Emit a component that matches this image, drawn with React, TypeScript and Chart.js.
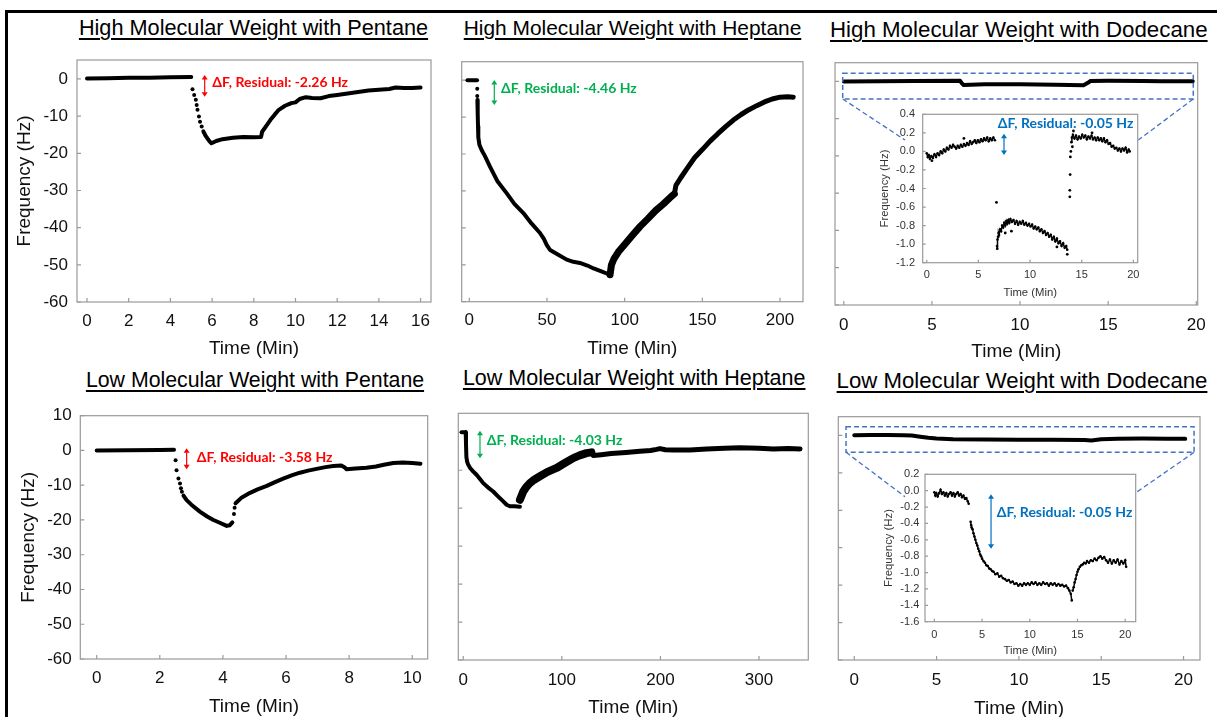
import React, { useEffect, useRef } from "react";
import { Chart, registerables } from "chart.js";

Chart.register(...registerables);

type Pt = [number, number];

// ---------------- tick values ----------------
const freqTicksA = [-60, -50, -40, -30, -20, -10, 0];
const freqTicksB = [-60, -50, -40, -30, -20, -10, 0, 10];
const timeTicksHmwPentane = [0, 2, 4, 6, 8, 10, 12, 14, 16];
const timeTicksHmwHeptane = [0, 50, 100, 150, 200];
const timeTicksDodecane = [0, 5, 10, 15, 20];
const timeTicksLmwPentane = [0, 2, 4, 6, 8, 10];
const timeTicksLmwHeptane = [0, 100, 200, 300];
const insetHmwYTicks = [-1.2, -1.0, -0.8, -0.6, -0.4, -0.2, 0.0, 0.2, 0.4];
const insetLmwYTicks = [-1.6, -1.4, -1.2, -1.0, -0.8, -0.6, -0.4, -0.2, 0.0, 0.2];

// ---------------- HMW + Pentane ----------------
const hmwPentaneBase: Pt[] = [[0, 0.15], [1, 0.2], [2, 0.3], [3, 0.35], [4, 0.45], [5, 0.55]];
const hmwPentaneDrop: Pt[] = [[5.06, -2.8], [5.14, -4.3], [5.22, -5.6], [5.26, -7.0], [5.3, -8.3], [5.37, -10.1], [5.42, -11.5], [5.5, -12.8]];
const hmwPentaneMain: Pt[] = [[5.58, -14.1], [5.7, -15.4], [5.85, -16.6], [5.97, -17.3], [6.2, -16.7], [6.5, -16.2], [7.0, -15.8], [7.5, -15.6], [8.0, -15.7], [8.35, -15.6], [8.4, -14.2], [8.6, -12.6], [8.8, -11.0], [9.0, -9.6], [9.2, -8.3], [9.5, -7.2], [9.8, -6.5], [10.0, -6.3], [10.2, -5.4], [10.5, -4.9], [10.8, -5.1], [11.2, -5.2], [11.6, -4.6], [12.0, -4.3], [12.5, -3.9], [13.0, -3.5], [13.5, -3.1], [14.0, -2.9], [14.5, -2.7], [14.8, -2.3], [15.2, -2.4], [15.6, -2.4], [16.0, -2.3]];

// ---------------- HMW + Heptane ----------------
const hmwHeptaneBase: Pt[] = [[-1.2, 0], [5, 0]];
const hmwHeptaneDrop: Pt[] = [[5.1, -2.3], [5.1, -4.3]];
const hmwHeptaneFall: Pt[] = [[5.2, -5.4], [5.4, -9], [5.6, -12.5], [5.8, -15.5], [6.5, -17.5], [8, -19], [10, -20.5], [13.3, -23.4], [18, -27.3], [24, -30.6], [29, -33.5], [34.8, -36], [40, -38.8], [45.5, -41.4], [48, -43], [49.8, -44.6], [52, -46], [57, -47.2], [62.7, -48.6], [67, -49.2], [71.2, -49.5], [76, -50.2], [80, -51], [85, -51.8], [90.6, -52.7]];
const hmwHeptaneRiseNoisy: Pt[] = [[90.6, -52.7], [91.5, -50], [93, -48.5], [96, -46.5], [100, -44.5], [105, -42], [110, -39.6], [115, -37.5], [120, -35.3], [125, -33.5], [130, -31.5], [132, -30.8]];
const hmwHeptaneRise: Pt[] = [[132, -30.8], [133, -28.5], [136, -26.5], [140, -24], [145, -21], [150, -18.8], [155, -16.5], [160, -14.5], [165, -12.6], [170, -10.8], [175, -9.3], [180, -8], [185, -6.9], [190, -5.9], [195, -5.1], [200, -4.6], [205, -4.5], [208.5, -4.6]];

// ---------------- HMW + Dodecane ----------------
const hmwDodecaneMain: Pt[] = [[0, -0.05], [2, 0.03], [4, 0.08], [6.6, 0.13], [6.7, -0.55], [6.8, -1.0], [8, -0.75], [10, -0.8], [12, -0.92], [13.6, -1.06], [13.85, -0.4], [14, 0.12], [15, 0.16], [17, 0.12], [18, 0.05], [19.8, 0.01]];
const insetHmwA: Pt[] = [[0.0, -0.02], [0.1, -0.06], [0.2, -0.04], [0.3, -0.08], [0.45, -0.05], [0.6, -0.07], [0.75, -0.03], [0.9, -0.06], [1.05, -0.02], [1.2, -0.04], [1.35, 0.0], [1.5, -0.02], [1.65, 0.02], [1.8, 0.0], [1.95, 0.04], [2.1, 0.02], [2.25, 0.06], [2.4, 0.04], [2.55, 0.07], [2.7, 0.05], [2.85, 0.03], [3.0, 0.06], [3.15, 0.04], [3.3, 0.07], [3.45, 0.05], [3.6, 0.08], [3.75, 0.06], [3.9, 0.09], [4.05, 0.07], [4.2, 0.11], [4.35, 0.08], [4.5, 0.1], [4.65, 0.12], [4.8, 0.09], [4.95, 0.12], [5.1, 0.1], [5.25, 0.13], [5.4, 0.11], [5.55, 0.14], [5.7, 0.12], [5.85, 0.15], [6.0, 0.11], [6.15, 0.14], [6.3, 0.12], [6.45, 0.15], [6.6, 0.12]];
const insetHmwDots: Pt[] = [[6.75, -0.55], [13.85, -0.49], [13.85, -0.42], [13.88, -0.25], [13.9, -0.06], [13.95, 0.0], [7.6, -0.88], [8.2, -0.86], [12.6, -1.03], [13.6, -1.11], [14.1, 0.05], [14.2, 0.22], [16.0, 0.2], [3.6, 0.14], [0.5, -0.1]];
const insetHmwB: Pt[] = [[6.8, -1.02], [6.82, -1.05], [6.85, -0.95], [6.9, -0.92], [6.95, -0.88], [7.0, -0.9], [7.1, -0.84], [7.2, -0.86], [7.3, -0.8], [7.4, -0.82], [7.5, -0.77], [7.6, -0.8], [7.7, -0.75], [7.8, -0.78], [7.9, -0.74], [8.0, -0.77], [8.1, -0.73], [8.25, -0.76], [8.4, -0.74], [8.55, -0.78], [8.7, -0.75], [8.85, -0.79], [9.0, -0.76], [9.15, -0.78], [9.3, -0.75], [9.45, -0.79], [9.6, -0.77], [9.75, -0.8], [9.9, -0.78], [10.05, -0.81], [10.2, -0.79], [10.35, -0.83], [10.5, -0.81], [10.65, -0.84], [10.8, -0.82], [10.95, -0.86], [11.1, -0.84], [11.25, -0.88], [11.4, -0.86], [11.55, -0.9], [11.7, -0.88], [11.85, -0.92], [12.0, -0.9], [12.15, -0.95], [12.3, -0.92], [12.45, -0.97], [12.6, -0.94], [12.75, -0.99], [12.9, -0.97], [13.05, -1.02], [13.2, -0.99], [13.35, -1.04], [13.5, -1.02], [13.6, -1.06]];
const insetHmwC: Pt[] = [[14.0, 0.1], [14.05, 0.15], [14.15, 0.18], [14.3, 0.14], [14.45, 0.17], [14.6, 0.13], [14.75, 0.16], [14.9, 0.14], [15.05, 0.18], [15.2, 0.15], [15.35, 0.17], [15.5, 0.13], [15.65, 0.16], [15.8, 0.14], [15.95, 0.17], [16.1, 0.13], [16.25, 0.15], [16.4, 0.12], [16.55, 0.15], [16.7, 0.12], [16.85, 0.14], [17.0, 0.11], [17.15, 0.14], [17.3, 0.1], [17.45, 0.12], [17.6, 0.08], [17.75, 0.09], [17.9, 0.05], [18.05, 0.06], [18.2, 0.03], [18.35, 0.04], [18.5, 0.01], [18.65, 0.03], [18.8, 0.0], [18.95, 0.03], [19.1, 0.01], [19.25, 0.04], [19.4, -0.01], [19.55, 0.02], [19.65, 0.0]];

// ---------------- LMW + Pentane ----------------
const lmwPentaneBase: Pt[] = [[0, 0], [1, 0.05], [2, 0.1], [2.45, 0.2]];
const lmwPentaneDrop: Pt[] = [[2.5, -2.8], [2.53, -5.7], [2.59, -8.1], [2.64, -9.5], [2.67, -10.9], [2.7, -11.9], [4.35, -18.3], [4.37, -16.5]];
const lmwPentaneFall: Pt[] = [[2.75, -13], [2.85, -14.3], [3.0, -15.6], [3.27, -17.6], [3.5, -19], [3.7, -20], [3.9, -20.8], [4.12, -21.7], [4.22, -21.5], [4.3, -20.7]];
const lmwPentaneRise: Pt[] = [[4.4, -15.2], [4.6, -13.5], [4.86, -12.2], [5.1, -11.2], [5.39, -10.2], [5.65, -9.1], [5.91, -8.1], [6.2, -7.1], [6.44, -6.4], [6.7, -5.8], [6.97, -5.3], [7.25, -4.8], [7.5, -4.5], [7.75, -4.3], [7.85, -4.8], [7.92, -5.4], [8.2, -5.2], [8.55, -5.0], [8.85, -4.6], [9.1, -4.1], [9.4, -3.6], [9.7, -3.5], [10.0, -3.6], [10.26, -3.8]];

// ---------------- LMW + Heptane ----------------
const lmwHeptaneFall: Pt[] = [[-1.7, 0], [2.5, 0], [2.8, -3], [3.2, -6.5], [4, -7.8], [5, -8.5], [7, -9.4], [10, -10.3], [13.5, -11.2], [17, -12.3], [20.3, -13.4], [25, -14.5], [30.4, -15.6], [35, -16.8], [40.6, -18.2], [44, -19.1], [47.3, -19.5], [52, -19.5], [57.5, -19.6]];
const lmwHeptaneRiseNoisy: Pt[] = [[57.5, -17.8], [60.9, -15.6], [64, -14.4], [67.6, -13.4], [72, -12.5], [77.8, -11.6], [85, -10.5], [94.7, -9.4], [103, -8.1], [111.6, -6.8], [118, -6.1], [125.1, -5.5], [130, -5.3]];
const lmwHeptaneTail: Pt[] = [[130, -5.3], [131.9, -6.1], [140, -5.9], [150, -5.6], [165, -5.3], [179.2, -5.0], [190, -4.8], [196.1, -4.5], [199.5, -4.3], [205, -4.6], [213, -4.7], [230, -4.7], [246.9, -4.4], [265, -4.2], [280.7, -4.1], [300, -4.2], [314.5, -4.4], [330, -4.3], [341.6, -4.4]];

// ---------------- LMW + Dodecane ----------------
const lmwDodecaneMain: Pt[] = [[0, 0.05], [1, 0.08], [2, 0.08], [3, 0.05], [3.5, -0.05], [4, -0.35], [4.5, -0.65], [5, -0.85], [6, -1.0], [8, -1.1], [10, -1.15], [12, -1.15], [14, -1.2], [14.4, -1.35], [15, -1.0], [16, -0.88], [17.5, -0.82], [19, -0.88], [20.1, -0.92]];
const insetLmwA: Pt[] = [[0, -0.02], [0.1, -0.06], [0.2, -0.03], [0.35, -0.07], [0.5, -0.03], [0.65, 0.01], [0.8, -0.04], [0.95, -0.02], [1.1, -0.06], [1.25, -0.03], [1.4, -0.07], [1.55, -0.04], [1.7, -0.02], [1.85, -0.06], [2.0, -0.03], [2.15, -0.07], [2.3, -0.04], [2.45, -0.02], [2.6, -0.06], [2.75, -0.04], [2.9, -0.08], [3.05, -0.06], [3.2, -0.1], [3.35, -0.09], [3.5, -0.13], [3.6, -0.16]];
const insetLmwB: Pt[] = [[3.8, -0.38], [3.85, -0.42], [3.9, -0.45], [4.0, -0.47], [4.1, -0.52], [4.2, -0.56], [4.3, -0.6], [4.4, -0.64], [4.5, -0.67], [4.6, -0.71], [4.7, -0.74], [4.8, -0.78], [4.9, -0.8], [5.0, -0.83], [5.15, -0.86], [5.3, -0.88], [5.45, -0.91], [5.6, -0.92], [5.75, -0.95], [5.9, -0.96], [6.05, -0.98], [6.2, -0.99], [6.4, -1.02], [6.6, -1.01], [6.8, -1.05], [7.0, -1.04], [7.2, -1.07], [7.4, -1.08], [7.6, -1.1], [7.8, -1.09], [8.0, -1.12], [8.2, -1.11], [8.4, -1.14], [8.6, -1.13], [8.8, -1.16], [9.0, -1.14], [9.2, -1.16], [9.4, -1.13], [9.6, -1.15], [9.8, -1.13], [10.0, -1.15], [10.2, -1.12], [10.4, -1.14], [10.6, -1.12], [10.8, -1.15], [11.0, -1.13], [11.2, -1.15], [11.4, -1.12], [11.6, -1.14], [11.8, -1.13], [12.0, -1.16], [12.2, -1.13], [12.4, -1.15], [12.6, -1.13], [12.8, -1.16], [13.0, -1.14], [13.2, -1.16], [13.4, -1.15], [13.6, -1.17], [13.8, -1.16], [14.0, -1.19], [14.15, -1.22], [14.3, -1.26], [14.4, -1.34]];
const insetLmwC: Pt[] = [[14.5, -1.22], [14.6, -1.18], [14.7, -1.12], [14.8, -1.08], [14.9, -1.03], [15.0, -0.99], [15.1, -0.96], [15.25, -0.93], [15.4, -0.91], [15.55, -0.9], [15.7, -0.88], [15.85, -0.89], [16.0, -0.86], [16.2, -0.88], [16.4, -0.85], [16.6, -0.86], [16.8, -0.83], [17.0, -0.85], [17.2, -0.82], [17.4, -0.8], [17.6, -0.83], [17.8, -0.81], [18.0, -0.85], [18.2, -0.88], [18.4, -0.84], [18.6, -0.89], [18.8, -0.85], [19.0, -0.88], [19.2, -0.84], [19.4, -0.9], [19.6, -0.86], [19.8, -0.89], [20.0, -0.85], [20.1, -0.93]];

// ---------------- annotation texts ----------------
const residualHmwPentane = "ΔF, Residual: -2.26 Hz";
const residualHmwHeptane = "ΔF, Residual: -4.46 Hz";
const residualHmwDodecane = "ΔF, Residual: -0.05 Hz";
const residualLmwPentane = "ΔF, Residual: -3.58 Hz";
const residualLmwHeptane = "ΔF, Residual: -4.03 Hz";
const residualLmwDodecane = "ΔF, Residual: -0.05 Hz";

const RED = "#FF0000";
const GREEN = "#00B050";
const BLUE = "#0070C0";
const DASH_BLUE = "#4472C4";

interface Box { l: number; t: number; r: number; b: number; }
type Ann =
  | { kind: "text"; x: number; y: number; text: string; color: string }
  | { kind: "arrow"; x: number; y1: number; y2: number; color: string }
  | { kind: "dashRect"; x1: number; y1: number; x2: number; y2: number }
  | { kind: "dashLine"; x1: number; y1: number; x2: number; y2: number };

interface PanelCfg {
  canvas: Box;
  plot: Box;
  xRange: [number, number];
  yRange: [number, number];
  xTicks: number[];
  yTicks: number[];
  showYLabels: boolean;
  yDecimals: number;
  yTitleX?: number;
  xTitleY: number;
  xTickCenterY: number;
  yLabelRight: number;
  tickFont: number;
  titleFont: number;
  tickLen: number;
  labelColor: string;
  datasets: any[];
  anns: Ann[];
}

const toXY = (d: Pt[]) => d.map(([x, y]) => ({ x, y }));
const lineDs = (d: Pt[], w: number) => ({
  data: toXY(d), showLine: true, borderColor: "#000", backgroundColor: "#000",
  borderWidth: w, pointRadius: 0, borderCapStyle: "round", borderJoinStyle: "round", tension: 0,
});
const dotDs = (d: Pt[], r: number) => ({
  data: toXY(d), showLine: false, pointRadius: r, pointBackgroundColor: "#000",
  pointBorderWidth: 0, borderColor: "#000", backgroundColor: "#000",
});
const noisyDs = (d: Pt[], w: number, r: number) => ({
  data: toXY(d), showLine: true, borderColor: "#000", backgroundColor: "#000",
  borderWidth: w, pointRadius: r, pointBackgroundColor: "#000", pointBorderWidth: 0, tension: 0,
});

const MAIN = { tickFont: 17, titleFont: 19, tickLen: 4, labelColor: "#111" };
const INSET = { tickFont: 11, titleFont: 11.3, tickLen: 3, labelColor: "#333" };

const PANELS: PanelCfg[] = [
  {
    ...MAIN,
    canvas: { l: 10, t: 30, r: 450, b: 362 }, plot: { l: 77, t: 60, r: 431, b: 302 },
    xRange: [-0.48, 16.5], yRange: [-60, 5.1], xTicks: timeTicksHmwPentane, yTicks: freqTicksA,
    showYLabels: true, yDecimals: 0, yTitleX: 25, xTitleY: 348.3, xTickCenterY: 321.7, yLabelRight: 68,
    datasets: [lineDs(hmwPentaneBase, 4), dotDs(hmwPentaneDrop, 2), lineDs(hmwPentaneMain, 4)],
    anns: [
      { kind: "arrow", x: 5.645, y1: 1.06, y2: -4.77, color: RED },
      { kind: "text", x: 6.01, y: -0.9, text: residualHmwPentane, color: RED },
    ],
  },
  {
    ...MAIN,
    canvas: { l: 445, t: 30, r: 822, b: 362 }, plot: { l: 461.7, t: 61.7, r: 803, b: 301.7 },
    xRange: [-4.9, 214.8], yRange: [-60, 5], xTicks: timeTicksHmwHeptane, yTicks: freqTicksA,
    showYLabels: false, yDecimals: 0, xTitleY: 348.3, xTickCenterY: 320.7, yLabelRight: 452,
    datasets: [lineDs(hmwHeptaneBase, 4), dotDs(hmwHeptaneDrop, 2), lineDs(hmwHeptaneFall, 4), lineDs(hmwHeptaneRiseNoisy, 7), lineDs(hmwHeptaneRise, 5)],
    anns: [
      { kind: "arrow", x: 16.09, y1: 0.04, y2: -6.73, color: GREEN },
      { kind: "text", x: 20.4, y: -2.2, text: residualHmwHeptane, color: GREEN },
    ],
  },
  {
    ...MAIN,
    canvas: { l: 820, t: 30, r: 1217, b: 366 }, plot: { l: 835, t: 62.7, r: 1197.7, b: 305 },
    xRange: [-0.5, 20.08], yRange: [-60, 5], xTicks: timeTicksDodecane, yTicks: freqTicksA,
    showYLabels: false, yDecimals: 0, xTitleY: 351.7, xTickCenterY: 325, yLabelRight: 826,
    datasets: [lineDs(hmwDodecaneMain, 4)],
    anns: [
      { kind: "dashRect", x1: -0.063, y1: 2.16, x2: 19.83, y2: -4.74 },
      { kind: "dashLine", x1: -0.063, y1: -4.74, x2: 3.47, y2: -15.73 },
      { kind: "dashLine", x1: 19.83, y1: -4.74, x2: 16.71, y2: -15.73 },
    ],
  },
  {
    ...MAIN,
    canvas: { l: 10, t: 390, r: 447, b: 720 }, plot: { l: 80.3, t: 415.7, r: 427.7, b: 659 },
    xRange: [-0.52, 10.49], yRange: [-60, 10], xTicks: timeTicksLmwPentane, yTicks: freqTicksB,
    showYLabels: true, yDecimals: 0, yTitleX: 28.3, xTitleY: 706.7, xTickCenterY: 678, yLabelRight: 71.7,
    datasets: [lineDs(lmwPentaneBase, 4), dotDs(lmwPentaneDrop, 2), lineDs(lmwPentaneFall, 4), lineDs(lmwPentaneRise, 4)],
    anns: [
      { kind: "arrow", x: 2.85, y1: 0.62, y2: -5.42, color: RED },
      { kind: "text", x: 3.17, y: -1.97, text: residualLmwPentane, color: RED },
    ],
  },
  {
    ...MAIN,
    canvas: { l: 445, t: 390, r: 827, b: 720 }, plot: { l: 458.3, t: 413.3, r: 808.3, b: 660 },
    xRange: [-5, 350], yRange: [-60, 5], xTicks: timeTicksLmwHeptane, yTicks: freqTicksA,
    showYLabels: false, yDecimals: 0, xTitleY: 707.3, xTickCenterY: 680, yLabelRight: 450,
    datasets: [lineDs(lmwHeptaneFall, 4), lineDs(lmwHeptaneRiseNoisy, 8), lineDs(lmwHeptaneTail, 5)],
    anns: [
      { kind: "arrow", x: 17.0, y1: 0.41, y2: -6.86, color: GREEN },
      { kind: "text", x: 23.8, y: -2.04, text: residualLmwHeptane, color: GREEN },
    ],
  },
  {
    ...MAIN,
    canvas: { l: 820, t: 390, r: 1217, b: 722 }, plot: { l: 838.3, t: 416.7, r: 1200, b: 660 },
    xRange: [-0.97, 21], yRange: [-60, 5], xTicks: timeTicksDodecane, yTicks: freqTicksA,
    showYLabels: false, yDecimals: 0, xTitleY: 708.3, xTickCenterY: 680.7, yLabelRight: 830,
    datasets: [lineDs(lmwDodecaneMain, 4)],
    anns: [
      { kind: "dashRect", x1: -0.5, y1: 2.33, x2: 20.64, y2: -4.51 },
      { kind: "dashLine", x1: -0.5, y1: -4.51, x2: 3.08, y2: -16.37 },
      { kind: "dashLine", x1: 20.64, y1: -4.51, x2: 17.05, y2: -15.47 },
    ],
  },
  {
    ...INSET,
    canvas: { l: 875, t: 100, r: 1150, b: 301 }, plot: { l: 922.7, t: 111, r: 1137.7, b: 262.7 },
    xRange: [-0.39, 20.42], yRange: [-1.2, 0.4], xTicks: timeTicksDodecane, yTicks: insetHmwYTicks,
    showYLabels: true, yDecimals: 1, yTitleX: 885, xTitleY: 292.7, xTickCenterY: 275, yLabelRight: 915,
    datasets: [noisyDs(insetHmwA, 1.5, 1.3), noisyDs(insetHmwB, 1.5, 1.3), noisyDs(insetHmwC, 1.5, 1.3), dotDs(insetHmwDots, 1.4)],
    anns: [
      { kind: "arrow", x: 7.48, y1: 0.189, y2: -0.04, color: BLUE },
      { kind: "text", x: 6.87, y: 0.305, text: residualHmwDodecane, color: BLUE },
    ],
  },
  {
    ...INSET,
    canvas: { l: 875, t: 462, r: 1150, b: 660 }, plot: { l: 925, t: 473.3, r: 1135.7, b: 621.7 },
    xRange: [-0.98, 21.1], yRange: [-1.6, 0.2], xTicks: timeTicksDodecane, yTicks: insetLmwYTicks,
    showYLabels: true, yDecimals: 1, yTitleX: 889.3, xTitleY: 651, xTickCenterY: 635, yLabelRight: 919.3,
    datasets: [noisyDs(insetLmwA, 1.5, 1.3), noisyDs(insetLmwB, 1.5, 1.3), noisyDs(insetLmwC, 1.5, 1.3)],
    anns: [
      { kind: "arrow", x: 5.94, y1: -0.043, y2: -0.71, color: BLUE },
      { kind: "text", x: 6.53, y: -0.266, text: residualLmwDodecane, color: BLUE },
    ],
  },
];

const TITLES = [
  { text: "High Molecular Weight with Pentane", cx: 253.5, cy: 27.3, size: 21.7 },
  { text: "High Molecular Weight with Heptane", cx: 632.5, cy: 27.8, size: 20.9 },
  { text: "High Molecular Weight with Dodecane", cx: 1018.8, cy: 30, size: 22.3 },
  { text: "Low Molecular Weight with Pentane", cx: 255, cy: 380.3, size: 21.3 },
  { text: "Low Molecular Weight with Heptane", cx: 634.2, cy: 378.7, size: 21.5 },
  { text: "Low Molecular Weight with Dodecane", cx: 1022, cy: 381.2, size: 22.2 },
];

const FAMILY = '"Liberation Sans", Arial, sans-serif';

function decor(p: PanelCfg) {
  return {
    id: "decor",
    beforeDatasetsDraw(chart: any) {
      const { ctx, chartArea: a, scales } = chart;
      ctx.save();
      ctx.strokeStyle = "#9a9a9a";
      ctx.lineWidth = 1.2;
      ctx.strokeRect(a.left, a.top, a.right - a.left, a.bottom - a.top);
      ctx.beginPath();
      scales.x.ticks.forEach((t: any) => {
        const x = scales.x.getPixelForValue(t.value);
        ctx.moveTo(x, a.bottom);
        ctx.lineTo(x, a.bottom - p.tickLen);
      });
      scales.y.ticks.forEach((t: any) => {
        const y = scales.y.getPixelForValue(t.value);
        ctx.moveTo(a.left, y);
        ctx.lineTo(a.left + p.tickLen, y);
      });
      ctx.stroke();
      ctx.restore();
    },
    afterDatasetsDraw(chart: any) {
      const { ctx, scales } = chart;
      const X = (v: number) => scales.x.getPixelForValue(v);
      const Y = (v: number) => scales.y.getPixelForValue(v);
      ctx.save();
      p.anns.forEach((an) => {
        if (an.kind === "text") {
          ctx.fillStyle = an.color;
          ctx.font = "bold 14px Lato, 'Open Sans', sans-serif";
          ctx.textAlign = "left";
          ctx.textBaseline = "middle";
          ctx.fillText(an.text, X(an.x), Y(an.y));
        } else if (an.kind === "arrow") {
          const x = X(an.x), y1 = Y(an.y1), y2 = Y(an.y2);
          const h = 4.5, w = 3;
          ctx.strokeStyle = an.color;
          ctx.fillStyle = an.color;
          ctx.lineWidth = 1.2;
          ctx.beginPath();
          ctx.moveTo(x, y1 + h - 0.5);
          ctx.lineTo(x, y2 - h + 0.5);
          ctx.stroke();
          ctx.beginPath();
          ctx.moveTo(x, y1); ctx.lineTo(x - w, y1 + h); ctx.lineTo(x + w, y1 + h); ctx.closePath(); ctx.fill();
          ctx.beginPath();
          ctx.moveTo(x, y2); ctx.lineTo(x - w, y2 - h); ctx.lineTo(x + w, y2 - h); ctx.closePath(); ctx.fill();
        } else if (an.kind === "dashRect") {
          ctx.strokeStyle = DASH_BLUE;
          ctx.lineWidth = 1.5;
          ctx.setLineDash([5, 3]);
          const x1 = X(an.x1), x2 = X(an.x2), y1 = Y(an.y1), y2 = Y(an.y2);
          ctx.strokeRect(x1, y1, x2 - x1, y2 - y1);
          ctx.setLineDash([]);
        } else if (an.kind === "dashLine") {
          ctx.strokeStyle = DASH_BLUE;
          ctx.lineWidth = 1.3;
          ctx.setLineDash([5, 3]);
          ctx.beginPath();
          ctx.moveTo(X(an.x1), Y(an.y1));
          ctx.lineTo(X(an.x2), Y(an.y2));
          ctx.stroke();
          ctx.setLineDash([]);
        }
      });
      ctx.restore();
    },
  };
}

function makeChart(canvas: HTMLCanvasElement, p: PanelCfg) {
  const titleLH = p.titleFont * 1.2;
  const tickLH = p.tickFont * 1.2;
  const padLeft = p.yTitleX !== undefined ? p.yTitleX - titleLH / 2 - p.canvas.l : 0;
  const yWidth = p.plot.l - p.canvas.l - padLeft;
  const padTop = p.plot.t - p.canvas.t;
  const padRight = p.canvas.r - p.plot.r;
  const xHeight = p.xTitleY + titleLH / 2 - p.plot.b;
  const padBottom = Math.max(0, p.canvas.b - (p.xTitleY + titleLH / 2));
  const xTickPad = p.xTickCenterY - p.plot.b - tickLH / 2;
  const yTickPad = p.plot.l - p.yLabelRight;
  return new Chart(canvas, {
    type: "scatter",
    data: { datasets: p.datasets },
    options: {
      responsive: false,
      animation: false,
      devicePixelRatio: 1,
      events: [],
      layout: { padding: { left: padLeft, top: padTop, right: padRight, bottom: padBottom } },
      plugins: { legend: { display: false }, tooltip: { enabled: false } },
      scales: {
        x: {
          type: "linear",
          position: "bottom",
          min: p.xRange[0],
          max: p.xRange[1],
          afterBuildTicks: (ax: any) => { ax.ticks = p.xTicks.map((v) => ({ value: v })); },
          afterFit: (s: any) => { s.height = xHeight; },
          grid: { display: false, drawTicks: false },
          border: { display: false },
          ticks: {
            autoSkip: false, maxRotation: 0, minRotation: 0, padding: xTickPad,
            color: p.labelColor, font: { family: FAMILY, size: p.tickFont },
            callback: (v: any) => String(v),
          },
          title: { display: true, text: "Time (Min)", color: p.labelColor, font: { family: FAMILY, size: p.titleFont }, padding: 0 },
        },
        y: {
          type: "linear",
          position: "left",
          min: p.yRange[0],
          max: p.yRange[1],
          afterBuildTicks: (ax: any) => { ax.ticks = p.yTicks.map((v) => ({ value: v })); },
          afterFit: (s: any) => { s.width = yWidth; },
          grid: { display: false, drawTicks: false },
          border: { display: false },
          ticks: {
            display: p.showYLabels, autoSkip: false, padding: yTickPad,
            color: p.labelColor, font: { family: FAMILY, size: p.tickFont },
            callback: (v: any) => Number(v).toFixed(p.yDecimals),
          },
          title: { display: p.yTitleX !== undefined, text: "Frequency (Hz)", color: p.labelColor, font: { family: FAMILY, size: p.titleFont }, padding: 0 },
        },
      },
    } as any,
    plugins: [decor(p)],
  });
}

export default function App() {
  const refs = useRef<(HTMLCanvasElement | null)[]>([]);
  useEffect(() => {
    const charts = PANELS.map((p, i) => makeChart(refs.current[i] as HTMLCanvasElement, p));
    return () => charts.forEach((c) => c.destroy());
  }, []);
  return (
    <div style={{ position: "absolute", left: 0, top: 0, width: 1217, height: 717, overflow: "hidden", background: "#fff" }}>
      <div style={{ position: "absolute", left: 5, top: 10, width: 1212, height: 3, background: "#000" }} />
      <div style={{ position: "absolute", left: 5, top: 10, width: 3, height: 707, background: "#000" }} />
      {TITLES.map((t, i) => (
        <div
          key={"t" + i}
          style={{
            position: "absolute", left: t.cx - 260, width: 520, top: t.cy - 0.4885 * t.size,
            fontFamily: FAMILY, fontSize: t.size, lineHeight: 1, textAlign: "center", color: "#000",
            textDecoration: "underline", textUnderlineOffset: "3px", textDecorationThickness: "1.5px", whiteSpace: "nowrap",
          }}
        >
          {t.text}
        </div>
      ))}
      {PANELS.map((p, i) => (
        <canvas
          key={"c" + i}
          ref={(el) => { refs.current[i] = el; }}
          width={p.canvas.r - p.canvas.l}
          height={p.canvas.b - p.canvas.t}
          style={{ position: "absolute", left: p.canvas.l, top: p.canvas.t, width: p.canvas.r - p.canvas.l, height: p.canvas.b - p.canvas.t }}
        />
      ))}
    </div>
  );
}
